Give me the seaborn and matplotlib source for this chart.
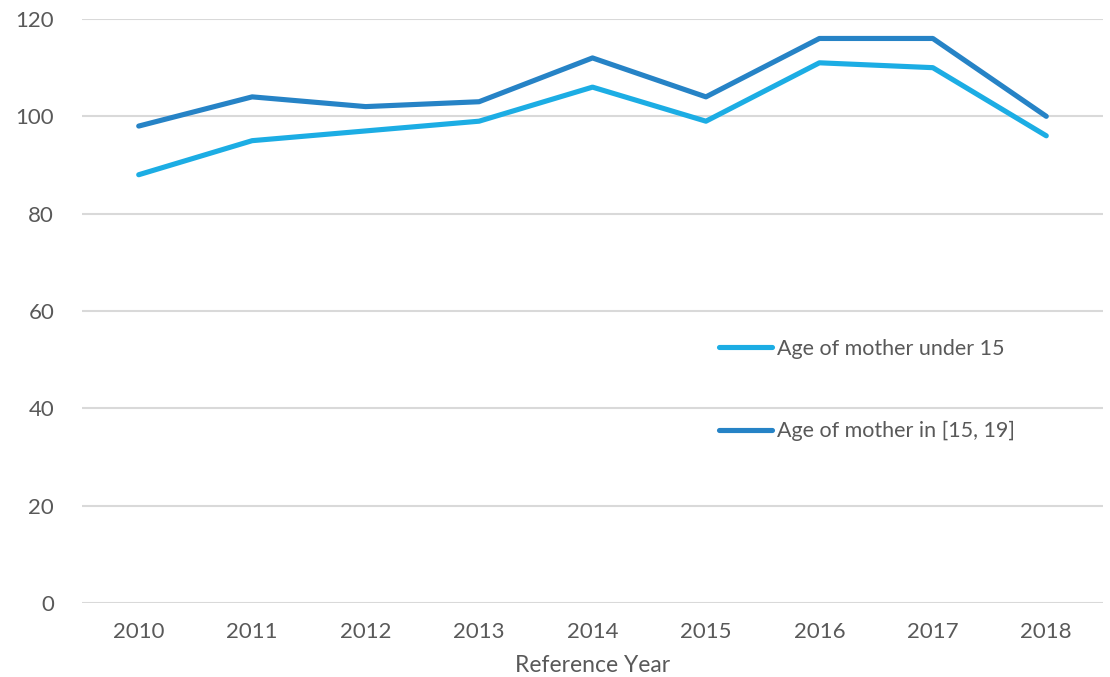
import pandas as pd
import matplotlib
matplotlib.use("Agg")
import matplotlib.pyplot as plt
import seaborn as sns

# Data
years = [2010, 2011, 2012, 2013, 2014, 2015, 2016, 2017, 2018]
under_15 = [88, 95, 97, 99, 106, 99, 111, 110, 96]
age_15_19 = [98, 104, 102, 103, 112, 104, 116, 116, 100]
series_names = ["Age of mother under 15", "Age of mother in [15, 19]"]
colors = ["#1cade4", "#2683c6"]

df = pd.concat([
    pd.DataFrame({"year": years, "value": under_15, "series": series_names[0]}),
    pd.DataFrame({"year": years, "value": age_15_19, "series": series_names[1]}),
])

sns.set_theme(style="white")
plt.rcParams["font.family"] = ["Lato", "DejaVu Sans"]
text_grey = "#595959"

fig = plt.figure(figsize=(11.1, 6.77), dpi=100)
ax = fig.add_axes([82 / 1110, 1 - 603 / 677, (1103 - 82) / 1110, (603 - 19) / 677])

sns.lineplot(data=df, x="year", y="value", hue="series", palette=colors,
             linewidth=3.7, ax=ax, solid_capstyle="round", solid_joinstyle="round")

ax.set_xlim(2009.5, 2018.5)
ax.set_ylim(0, 120)
ax.set_xticks(years)
ax.set_yticks(range(0, 121, 20))
ax.yaxis.grid(True, color="#d9d9d9", linewidth=1.5)
ax.set_axisbelow(True)
for s in ax.spines.values():
    s.set_visible(False)
ax.tick_params(axis="both", length=0, labelsize=16, colors=text_grey)
ax.tick_params(axis="x", pad=14)
ax.tick_params(axis="y", pad=20)
ax.set_ylabel("")
ax.set_xlabel("Reference Year", fontsize=16.5, color=text_grey, labelpad=9)

leg = ax.legend(loc="center left", bbox_to_anchor=(0.615, 0.365), frameon=False,
                fontsize=15.5, handlelength=2.5, handletextpad=0.2,
                labelspacing=2.9, borderaxespad=0)
for t in leg.get_texts():
    t.set_color(text_grey)

fig.savefig("out.png", dpi=100)
